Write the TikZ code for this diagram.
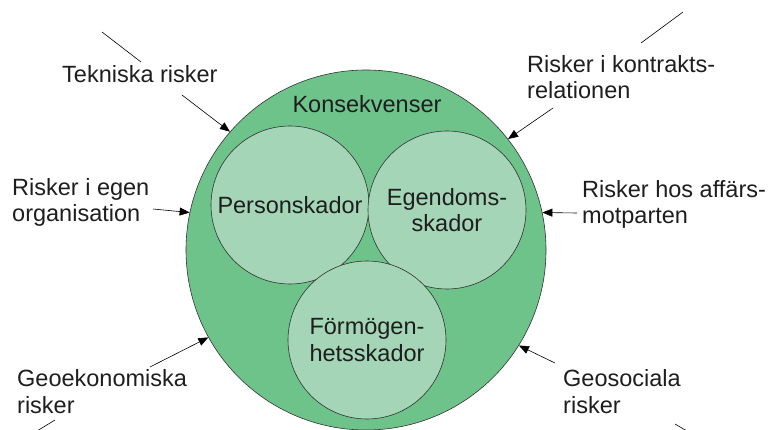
\documentclass[tikz,border=0pt]{standalone}
\usepackage{fontspec}
\setmainfont{Liberation Sans}
\definecolor{outergreen}{HTML}{6EC38B}
\definecolor{innergreen}{HTML}{A3D5B6}
\definecolor{textdark}{HTML}{1E1E1E}
\usetikzlibrary{arrows.meta}

\begin{document}
\begin{tikzpicture}[
  x=1pt, y=-1pt,
  every node/.style={font=\fontsize{23.5}{26.5}\selectfont, text=textdark},
  damage/.style={circle, draw=black!80, fill=innergreen, minimum size=158pt, inner sep=0pt, align=center, line width=0.6pt},
  risk/.style={anchor=base west, align=left, inner sep=0pt},
  arr/.style={-{Triangle[length=10pt, width=8pt]}, line width=0.6pt},
]
\useasboundingbox (0,0) rectangle (770,430);

\node[circle, draw=black!80, fill=outergreen, minimum size=360pt, inner sep=0pt, line width=0.6pt] (cons) at (366,250) {};
\node[anchor=base] (constext) at (367,113) {Konsekvenser};

\node[damage] (pers) at (290,205) {Personskador};
\node[damage] (egen) at (447,210) {Egendoms-\\skador};
\node[damage] (form) at (367,340) {Förmögen-\\hetsskador};

% Risk sources (base = last line)
\node[risk] (tek) at (62,83) {Tekniska risker};
\node[risk] (kontr) at (527,99) {Risker i kontrakts-\\relationen};
\node[risk] (org) at (12,222) {Risker i egen\\organisation};
\node[risk] (aff) at (582,224) {Risker hos affärs-\\motparten};
\node[risk] (geoek) at (17,413) {Geoekonomiska\\risker};
\node[risk] (geosoc) at (563,413) {Geosociala\\risker};

% Arrow tails
\coordinate (tekfrom) at (182,95);
\coordinate (kontrfrom) at (553,108);
\coordinate (orgfrom) at (153,209);
\coordinate (afffrom) at (577,213);
\coordinate (geoekfrom) at (150,367);
\coordinate (geosocfrom) at (555,363);

\draw[arr] (tekfrom) -- (cons.139);
\draw[arr] (kontrfrom) -- (cons.38);
\draw[arr] (orgfrom) -- (cons.168);
\draw[arr] (afffrom) -- (cons.12);
\draw[arr] (geoekfrom) -- (cons.209);
\draw[arr] (geosocfrom) -- (cons.328);

% Cut lines at the corners
\coordinate (tla) at (102,32);
\coordinate (tlb) at (141,62);
\coordinate (tra) at (683,12);
\coordinate (trb) at (641,43);
\coordinate (bla) at (55,420);
\coordinate (blb) at (37,431);
\coordinate (bra) at (675,424);
\coordinate (brb) at (687,431);
\draw[line width=0.6pt] (tla) -- (tlb);
\draw[line width=0.6pt] (tra) -- (trb);
\draw[line width=0.6pt] (bla) -- (blb);
\draw[line width=0.6pt] (bra) -- (brb);

\end{tikzpicture}
\end{document}
